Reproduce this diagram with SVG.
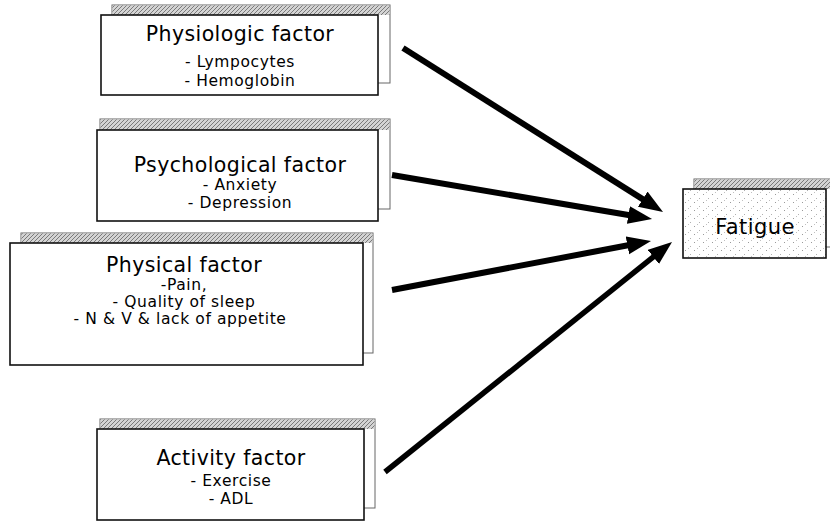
<svg xmlns="http://www.w3.org/2000/svg" width="830" height="521" viewBox="0 0 830 521">
  <defs>
    <pattern id="hatch" patternUnits="userSpaceOnUse" width="4" height="4">
      <rect width="4" height="4" fill="#d4d4d4"/>
      <path d="M0,4 L4,0 M-1,1 L1,-1 M3,5 L5,3" stroke="#7a7a7a" stroke-width="1"/>
    </pattern>
    <pattern id="speckle" patternUnits="userSpaceOnUse" width="9" height="8">
      <rect width="9" height="8" fill="#ffffff"/>
      <rect x="1" y="2" width="1" height="1" fill="#9a9a9a"/>
      <rect x="6" y="6" width="1" height="1" fill="#b0b0b0"/>
      <rect x="4" y="0" width="1" height="1" fill="#c0c0c0"/>
    </pattern>
    <marker id="ah" markerUnits="userSpaceOnUse" markerWidth="26" markerHeight="20" refX="6" refY="9" orient="auto">
      <path d="M0,0 L24,9 L0,18 z" fill="#000"/>
    </marker>
  </defs>
  <style>
    .back { fill: #fff; stroke: #666; stroke-width: 1; }
    .band { fill: url(#hatch); stroke: none; }
    .front { fill: #fff; stroke: #111; stroke-width: 1.6; }
    .head { font-family: "DejaVu Sans", "Liberation Sans", sans-serif; font-size: 20.5px; letter-spacing: 0.4px; fill: #000; text-anchor: middle; }
    .sub { font-family: "DejaVu Sans", "Liberation Sans", sans-serif; font-size: 15.5px; letter-spacing: 0.6px; fill: #000; text-anchor: middle; }
    .arrow { stroke: #000; stroke-width: 6; fill: none; marker-end: url(#ah); }
  </style>
  <rect width="830" height="521" fill="#fff"/>

  <g id="physiologic">
    <rect class="back" x="112" y="5" width="278" height="78"/>
    <rect class="band" x="112.5" y="5.5" width="277" height="9.5"/>
    <rect class="front" x="101" y="15" width="277" height="80"/>
    <text class="head" x="240" y="41">Physiologic factor</text>
    <text class="sub" x="240" y="67">- Lympocytes</text>
    <text class="sub" x="240" y="86">- Hemoglobin</text>
  </g>

  <g id="psychological">
    <rect class="back" x="100" y="119" width="290" height="90"/>
    <rect class="band" x="100.5" y="119.5" width="289" height="10.5"/>
    <rect class="front" x="97" y="130" width="281" height="91"/>
    <text class="head" x="240" y="172">Psychological factor</text>
    <text class="sub" x="240" y="190">- Anxiety</text>
    <text class="sub" x="240" y="208">- Depression</text>
  </g>

  <g id="physical">
    <rect class="back" x="21" y="233" width="352" height="120"/>
    <rect class="band" x="21.5" y="233.5" width="351" height="9.5"/>
    <rect class="front" x="10" y="243" width="353" height="122"/>
    <text class="head" x="184" y="272">Physical factor</text>
    <text class="sub" x="184" y="290">-Pain,</text>
    <text class="sub" x="184" y="307">- Quality of sleep</text>
    <text class="sub" x="180" y="324">- N &amp; V &amp; lack of appetite</text>
  </g>

  <g id="activity">
    <rect class="back" x="100" y="419" width="275" height="89"/>
    <rect class="band" x="100.5" y="419.5" width="274" height="9.5"/>
    <rect class="front" x="97" y="429" width="267" height="91"/>
    <text class="head" x="231" y="465">Activity factor</text>
    <text class="sub" x="231" y="486">- Exercise</text>
    <text class="sub" x="231" y="504">- ADL</text>
  </g>

  <g id="fatigue">
    <rect class="back" x="694" y="179" width="145" height="68"/>
    <rect class="band" x="694.5" y="179.5" width="140" height="9.5"/>
    <rect class="front" x="683" y="189" width="143" height="69" style="fill:url(#speckle)"/>
    <text class="head" x="755" y="234" style="font-size:21px">Fatigue</text>
  </g>

  <g id="connectors">
    <line class="arrow" x1="403" y1="48" x2="647.8" y2="202.4"/>
    <line class="arrow" x1="392" y1="175" x2="634.3" y2="216"/>
    <line class="arrow" x1="392" y1="290" x2="633.3" y2="244.3"/>
    <line class="arrow" x1="385" y1="472" x2="658" y2="253.2" style="stroke-width:5.5"/>
  </g>
</svg>
